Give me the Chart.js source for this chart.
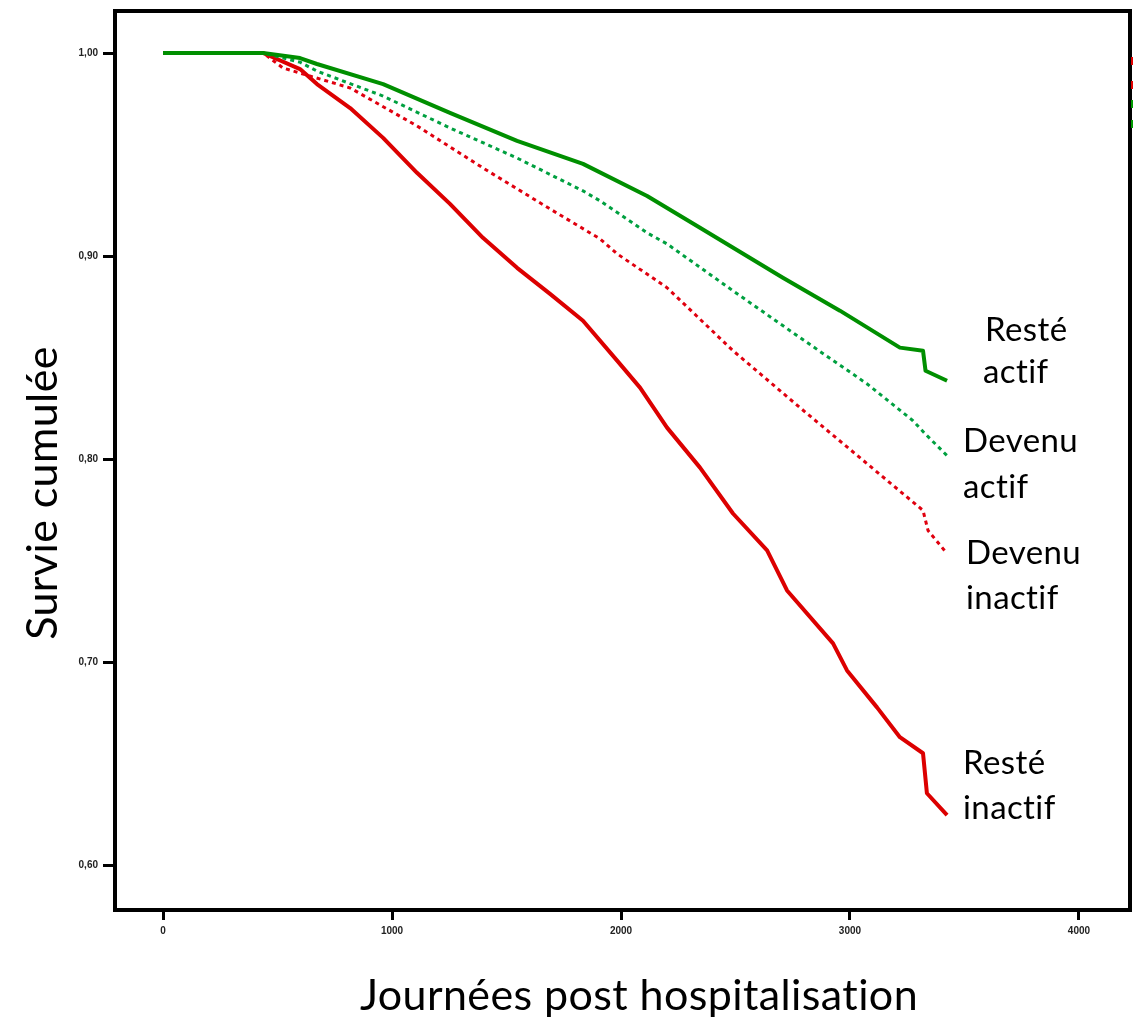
<!DOCTYPE html>
<html>
<head>
<meta charset="utf-8">
<script src="https://cdn.jsdelivr.net/npm/chart.js@4/dist/chart.umd.min.js"></script>
<style>
  body { margin: 0; background: #fff; }
  canvas { display: block; }
</style>
</head>
<body>
<canvas id="survChart" width="1133" height="1017"></canvas>
<script>
// values (days, cumulative survival)
const xTicks = [0, 1000, 2000, 3000, 4000];
const yTicks = [1.0, 0.9, 0.8, 0.7, 0.6];
const yTickLabels = ['1,00', '0,90', '0,80', '0,70', '0,60'];

const resteActifDays = [0, 437, 598, 672, 961, 1253, 1546, 1834, 2114, 2345, 2707, 2956, 3218, 3319, 3330, 3424];
const resteActifSurv = [1, 1, 0.9975, 0.9946, 0.9847, 0.9705, 0.9567, 0.9454, 0.9296, 0.9139, 0.8893, 0.8731, 0.8549, 0.8534, 0.8435, 0.8386];

const devenuActifDays = [0, 437, 598, 672, 961, 1253, 1546, 1834, 1908, 2114, 2201, 2489, 2782, 3074, 3275, 3328, 3424];
const devenuActifSurv = [1, 1, 0.9955, 0.9911, 0.9788, 0.9631, 0.9483, 0.9321, 0.9272, 0.9114, 0.9060, 0.8829, 0.8598, 0.8371, 0.8189, 0.8125, 0.8017];

const devenuInactifDays = [0, 437, 524, 817, 1109, 1397, 1690, 1908, 1983, 2201, 2489, 2782, 3074, 3319, 3341, 3424];
const devenuInactifSurv = [1, 1, 0.9926, 0.9828, 0.9641, 0.9434, 0.9232, 0.9085, 0.9011, 0.8844, 0.8534, 0.8253, 0.7978, 0.7747, 0.7648, 0.7535];

const resteInactifDays = [0, 437, 598, 672, 817, 961, 1109, 1253, 1397, 1546, 1690, 1834, 1983, 2083, 2201, 2345, 2489, 2638, 2725, 2926, 2987, 3118, 3218, 3319, 3336, 3424];
const resteInactifSurv = [1, 1, 0.9921, 0.9847, 0.9729, 0.9582, 0.9410, 0.9257, 0.9090, 0.8942, 0.8814, 0.8681, 0.8485, 0.8352, 0.8155, 0.7958, 0.7732, 0.7550, 0.7353, 0.7092, 0.6959, 0.6777, 0.6630, 0.6551, 0.6354, 0.6246];

const toPoints = (days, surv) => days.map((d, i) => ({ x: d, y: surv[i] }));

const labelFont = 'Lato, "Open Sans", sans-serif';

const framePlugin = {
    id: 'frameAndText',
    afterDraw(chart) {
        const ctx = chart.ctx;
        const a = chart.chartArea;
        ctx.save();
        ctx.strokeStyle = '#000';
        ctx.lineWidth = 4;
        ctx.strokeRect(a.left, a.top, a.right - a.left, a.bottom - a.top);

        // clipped legend remnants at the right edge
        ctx.fillStyle = '#e00000';
        ctx.fillRect(1131, 57, 2, 8);
        ctx.fillRect(1131, 81, 2, 8);
        ctx.fillStyle = '#009a00';
        ctx.fillRect(1131, 100, 2, 8);
        ctx.fillRect(1131, 120, 2, 8);

        ctx.fillStyle = '#000';
        ctx.letterSpacing = '0.4px';
        ctx.textBaseline = 'middle';
        ctx.textAlign = 'center';
        ctx.font = '43px ' + labelFont;
        ctx.fillText('Journées post hospitalisation', 639, 996);

        ctx.save();
        ctx.translate(43, 493);
        ctx.rotate(-Math.PI / 2);
        ctx.fillText('Survie cumulée', 0, 0);
        ctx.restore();

        ctx.textAlign = 'left';
        ctx.font = '33px ' + labelFont;
        ctx.fillText('Resté', 985, 330);
        ctx.fillText('actif', 983, 372);
        ctx.fillText('Devenu', 963, 441);
        ctx.fillText('actif', 963, 487);
        ctx.fillText('Devenu', 966, 553);
        ctx.fillText('inactif', 966, 598);
        ctx.fillText('Resté', 963, 763);
        ctx.fillText('inactif', 963, 808);
        ctx.restore();
    }
};

new Chart(document.getElementById('survChart'), {
    type: 'line',
    data: {
        datasets: [
            {
                label: 'Resté actif',
                data: toPoints(resteActifDays, resteActifSurv),
                borderColor: '#008f00',
                borderWidth: 4,
            },
            {
                label: 'Devenu actif',
                data: toPoints(devenuActifDays, devenuActifSurv),
                borderColor: '#00a040',
                borderWidth: 3,
                borderDash: [4, 4],
            },
            {
                label: 'Devenu inactif',
                data: toPoints(devenuInactifDays, devenuInactifSurv),
                borderColor: '#e0000f',
                borderWidth: 3,
                borderDash: [4, 4],
            },
            {
                label: 'Resté inactif',
                data: toPoints(resteInactifDays, resteInactifSurv),
                borderColor: '#dc0000',
                borderWidth: 4,
            },
        ],
    },
    options: {
        responsive: false,
        animation: false,
        parsing: false,
        layout: { padding: { top: 10, right: 3, left: 0, bottom: 0 } },
        elements: { point: { radius: 0 }, line: { tension: 0, fill: false, borderJoinStyle: 'round' } },
        plugins: { legend: { display: false }, tooltip: { enabled: false } },
        scales: {
            x: {
                type: 'linear',
                min: -210,
                max: 4223,
                afterBuildTicks: (scale) => { scale.ticks = xTicks.map((v) => ({ value: v })); },
                afterFit: (scale) => { scale.height = 107; },
                ticks: {
                    color: '#222',
                    font: { size: 10, weight: 'bold', family: 'Arial, sans-serif' },
                    padding: 5,
                    maxRotation: 0,
                    callback: (v) => String(v),
                },
                grid: { drawOnChartArea: false, drawTicks: true, tickLength: 10, tickWidth: 3, color: '#000' },
                border: { display: true, width: 4, color: '#000' },
            },
            y: {
                type: 'linear',
                min: 0.5779,
                max: 1.0207,
                afterBuildTicks: (scale) => { scale.ticks = yTicks.map((v) => ({ value: v })); },
                afterFit: (scale) => { scale.width = 115; },
                ticks: {
                    color: '#222',
                    font: { size: 10, weight: 'bold', family: 'Arial, sans-serif' },
                    padding: 5,
                    callback: (v) => yTickLabels[yTicks.indexOf(v)] || '',
                },
                grid: { drawOnChartArea: false, drawTicks: true, tickLength: 12, tickWidth: 3, color: '#000' },
                border: { display: true, width: 4, color: '#000' },
            },
        },
    },
    plugins: [framePlugin],
});
</script>
</body>
</html>
